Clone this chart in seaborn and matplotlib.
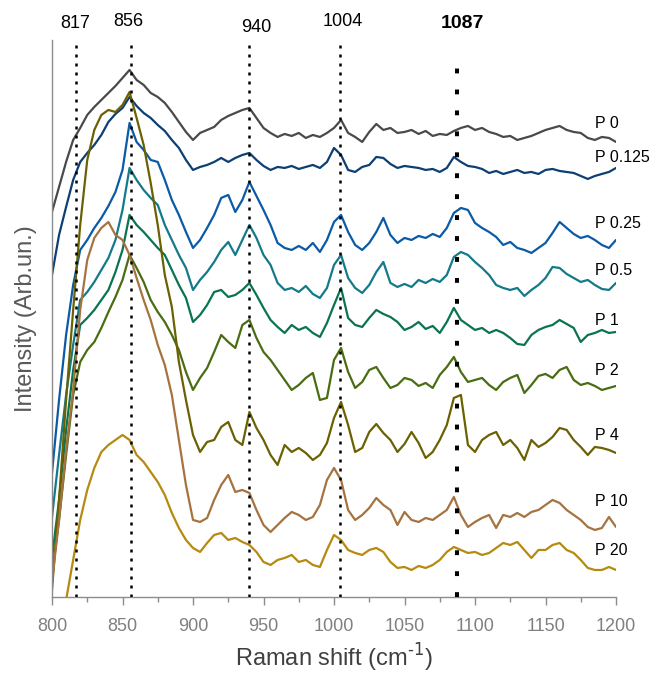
import numpy as np
import pandas as pd
import matplotlib
matplotlib.use("Agg")
import matplotlib.pyplot as plt
from matplotlib.ticker import MultipleLocator
from matplotlib.transforms import blended_transform_factory
import seaborn as sns

# ---------------- data (arbitrary units) ----------------
wavenumber = list(range(800, 1201, 5))

p0 = [385, 410, 435, 457, 469, 482, 490, 497, 504, 511, 519, 527,
      517, 512, 504, 500, 494, 485, 475, 465, 457,
      464, 467, 470, 477, 481, 484, 487, 489,
      479, 469, 464, 460, 463, 461, 464, 459, 462, 460, 464, 469,
      477, 464, 460, 455, 465, 473, 467, 469, 464, 465,
      467, 463, 466, 461, 463, 462, 466, 469, 471, 467,
      469, 465, 463, 460, 461, 457, 459, 461, 464, 467,
      469, 471, 467, 465, 464, 459, 457, 460, 459, 455]

p0_125 = [322, 362, 390, 417, 435, 444, 452, 462, 475, 483, 489, 500,
          491, 484, 479, 472, 466, 457, 449, 437, 427,
          430, 432, 435, 439, 435, 439, 442, 444,
          437, 431, 427, 430, 429, 431, 428, 430, 432, 429, 435, 449,
          442, 427, 425, 430, 432, 440, 439, 433, 429, 431,
          430, 429, 427, 428, 425, 429, 440, 435, 431, 430,
          428, 424, 426, 423, 425, 427, 424, 425, 423, 427,
          428, 426, 425, 424, 421, 418, 421, 423, 425, 429]

p0_25 = [124, 197, 262, 312, 347, 357, 369, 379, 391, 405, 427, 474,
         455, 447, 437, 435, 417, 397, 382, 365, 349,
         357, 369, 382, 399, 402, 385, 397, 415,
         401, 387, 372, 354, 349, 347, 351, 347, 354, 345, 357, 375,
         382, 365, 352, 347, 354, 365, 379, 362, 354, 359,
         357, 361, 359, 363, 360, 369, 384, 389, 387, 374,
         369, 365, 360, 352, 355, 349, 347, 344, 349, 354,
         364, 375, 369, 363, 359, 361, 357, 352, 349, 357]

p0_5 = [80, 142, 202, 252, 297, 305, 315, 327, 339, 357, 387, 429,
        417, 407, 399, 392, 372, 357, 342, 329, 307,
        317, 325, 335, 347, 355, 342, 357, 372,
        359, 342, 332, 314, 307, 309, 305, 311, 303, 299, 309, 332,
        342, 319, 309, 304, 312, 325, 335, 314, 310, 313,
        310, 317, 314, 318, 315, 322, 340, 345, 342, 335,
        329, 322, 312, 309, 307, 309, 301, 307, 312, 319,
        330, 329, 323, 319, 315, 317, 312, 308, 307, 314]

p1 = [39, 97, 167, 227, 272, 279, 287, 297, 307, 325, 347, 382,
      372, 365, 357, 349, 342, 327, 312, 299, 275,
      282, 292, 305, 307, 300, 302, 307, 314,
      302, 289, 277, 270, 264, 272, 267, 270, 264, 260, 274, 292,
      309, 279, 272, 270, 279, 287, 283, 280, 275, 267,
      270, 275, 268, 271, 264, 275, 289, 277, 272, 267,
      269, 264, 267, 264, 259, 253, 252, 262, 267, 270,
      272, 277, 273, 269, 255, 262, 264, 267, 264, 265]

p2 = [22, 77, 142, 202, 235, 247, 255, 269, 285, 300, 317, 342,
      329, 315, 297, 285, 275, 262, 247, 225, 207,
      219, 229, 245, 262, 255, 249, 272, 277,
      259, 245, 237, 227, 217, 207, 212, 219, 224, 197, 199, 237,
      249, 225, 209, 215, 227, 230, 219, 209, 212, 219,
      217, 211, 214, 209, 222, 230, 240, 225, 215, 217,
      219, 212, 207, 215, 219, 222, 204, 212, 221, 223,
      219, 227, 230, 217, 212, 214, 211, 207, 209, 211]

p4 = [7, 97, 197, 287, 372, 437, 467, 482, 487, 485, 492, 505,
      479, 452, 414, 372, 322, 290, 235, 197, 162,
      145, 155, 157, 170, 175, 157, 152, 185,
      169, 157, 142, 132, 152, 145, 149, 144, 137, 142, 154, 179,
      195, 172, 145, 149, 165, 173, 164, 157, 145, 153,
      165, 154, 139, 145, 157, 172, 199, 202, 152, 145,
      157, 162, 165, 152, 157, 149, 137, 157, 150, 154,
      160, 169, 167, 157, 150, 142, 150, 149, 147, 144]

p10 = [15, 77, 147, 207, 287, 337, 359, 369, 375, 362, 357, 342,
       319, 297, 277, 252, 232, 202, 157, 112, 77,
       75, 79, 97, 112, 122, 105, 107, 104,
       87, 72, 65, 72, 79, 85, 82, 77, 80, 92, 117, 129,
       117, 87, 77, 82, 89, 99, 92, 87, 72, 85,
       77, 75, 79, 77, 82, 87, 100, 82, 70, 75,
       79, 82, 69, 82, 80, 84, 80, 85, 87, 92,
       97, 94, 87, 82, 77, 70, 67, 69, 80, 70]

p20 = [-53, -28, -3, 37, 77, 107, 129, 145, 152, 157, 162, 157,
       142, 135, 125, 115, 102, 84, 69, 57, 49,
       45, 54, 62, 64, 57, 59, 55, 52,
       45, 35, 32, 37, 39, 42, 35, 37, 32, 30, 47, 62,
       57, 47, 44, 42, 47, 49, 45, 35, 29, 30,
       27, 31, 29, 32, 37, 45, 50, 47, 44, 45,
       42, 44, 49, 54, 52, 55, 47, 39, 47, 47,
       52, 54, 47, 44, 37, 29, 27, 27, 30, 27]

series_names = ["P 0", "P 0.125", "P 0.25", "P 0.5", "P 1", "P 2", "P 4", "P 10", "P 20"]
series_values = [p0, p0_125, p0_25, p0_5, p1, p2, p4, p10, p20]

peak_positions = [817, 856, 940, 1004, 1087]
peak_labels = ["817", "856", "940", "1004", "1087"]
x_ticks = [800, 850, 900, 950, 1000, 1050, 1100, 1150, 1200]

# ---------------- styling ----------------
colors = ["#4a4a4a", "#0d3f73", "#0b5aa6", "#137a8a", "#0a7450",
          "#4a6c12", "#6b6103", "#a5733f", "#b68a10"]
label_y = [473, 439, 373, 326, 276, 226, 161, 95, 46]
label_x = 1185

rows = []
for name, vals in zip(series_names, series_values):
    for w, v in zip(wavenumber, vals):
        rows.append({"shift": w, "intensity": v, "series": name})
df = pd.DataFrame(rows)

sns.set_style("white")
plt.rcParams["font.family"] = ["Liberation Sans", "DejaVu Sans"]

fig = plt.figure(figsize=(6.5, 6.75), dpi=100)
ax = fig.add_axes([0.08, 0.1156, 0.8677, 0.8252])

sns.lineplot(data=df, x="shift", y="intensity", hue="series",
             hue_order=series_names, palette=colors, linewidth=1.6,
             legend=False, estimator=None, sort=False, ax=ax)

# series labels
for name, ly in zip(series_names, label_y):
    ax.text(label_x, ly, name, fontsize=11.5, color="black",
            ha="left", va="center", zorder=5)

# peak marker lines and labels
trans = blended_transform_factory(ax.transData, ax.transAxes)
label_offsets = {"817": (816.3, 1.0287), "856": (854, 1.0323), "940": (945, 1.0215),
                 "1004": (1006.4, 1.0323), "1087": (1090.8, 1.0287)}
for pos, lab in zip(peak_positions, peak_labels):
    lx, ly = label_offsets[lab]
    if lab == "1087":
        ax.axvline(pos, ymin=0, ymax=0.977, color="black", lw=2.9,
                   dashes=(1.2, 4.0), zorder=4)
        ax.text(lx, ly, lab, transform=trans, ha="center", va="center",
                fontsize=14, fontweight="bold", color="black")
    else:
        ax.axvline(pos, ymin=0, ymax=1, color="black", lw=1.8,
                   dashes=(1.2, 2.4), zorder=4)
        ax.text(lx, ly, lab, transform=trans, ha="center", va="center",
                fontsize=13, color="black")

ax.set_xlim(800, 1200)
ax.set_ylim(0, 557)
ax.set_xticks(x_ticks)
ax.xaxis.set_minor_locator(MultipleLocator(25))
ax.set_yticks([])
ax.tick_params(axis="x", which="major", direction="out", length=6, width=1,
               color="#8c8c8c", labelsize=13, labelcolor="#808080", pad=9, bottom=True)
ax.tick_params(axis="x", which="minor", direction="out", length=3.5, width=1,
               color="#8c8c8c", bottom=True)

for s in ["top", "right"]:
    ax.spines[s].set_visible(False)
for s in ["left", "bottom"]:
    ax.spines[s].set_color("#8c8c8c")
    ax.spines[s].set_linewidth(1)

ax.set_xlabel(r"Raman shift (cm$^{\text{-}1}$)", fontsize=17, color="#404040", labelpad=5)
ax.set_ylabel("Intensity (Arb.un.)", fontsize=17, color="#595959", labelpad=11)

fig.savefig("out.png", dpi=100)
